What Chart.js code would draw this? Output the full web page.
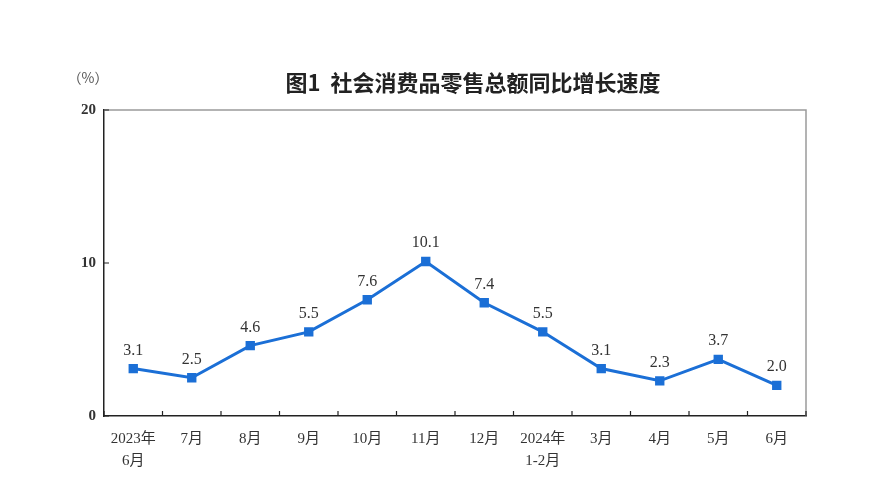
<!doctype html>
<html lang="zh">
  <head>
    <meta charset="UTF-8" />
    <title>社会消费品零售总额同比增长速度</title>
    <script src="https://cdn.jsdelivr.net/npm/chart.js"></script>
    <style>
      html, body { margin: 0; padding: 0; background: #fff; }
      #wrap { width: 870px; height: 492px; position: relative; }
    </style>
  </head>
  <body>
    <div id="wrap"><canvas id="retailChart"></canvas></div>
    <script>
      // data
      const months = [
        ["2023年", "6月"], "7月", "8月", "9月", "10月", "11月",
        "12月", ["2024年", "1-2月"], "3月", "4月", "5月", "6月",
      ];
      const growth = [3.1, 2.5, 4.6, 5.5, 7.6, 10.1, 7.4, 5.5, 3.1, 2.3, 3.7, 2.0];
      const yTicks = [0, 10, 20];

      const titleText = "图1  社会消费品零售总额同比增长速度";
      const unitText = "（%）";
      const lineBlue = "#1b6fd6";
      const textColor = "#333";

      // title, frame, inner ticks and value labels
      const decorate = {
        id: "decorate",
        afterDraw(chart) {
          const { ctx, chartArea: a, scales } = chart;
          ctx.save();

          ctx.fillStyle = "#222";
          ctx.font = "bold 22px 'Noto Sans CJK SC'";
          ctx.textAlign = "center";
          ctx.textBaseline = "middle";
          ctx.fillText(titleText, 473, 83);

          ctx.fillStyle = "#555";
          ctx.font = "14px 'Noto Sans CJK SC'";
          ctx.fillText(unitText, 88, 78);

          // gray top/right frame
          ctx.strokeStyle = "#9a9a9a";
          ctx.lineWidth = 1.5;
          ctx.beginPath();
          ctx.moveTo(a.left, a.top);
          ctx.lineTo(a.right, a.top);
          ctx.lineTo(a.right, a.bottom);
          ctx.stroke();

          // inward tick marks
          ctx.strokeStyle = "#222";
          ctx.lineWidth = 1.2;
          ctx.beginPath();
          const x = scales.x;
          for (let i = 0; i <= months.length; i++) {
            const px = x.getPixelForValue(i - 0.5);
            ctx.moveTo(px, a.bottom);
            ctx.lineTo(px, a.bottom - 5);
          }
          yTicks.forEach((v) => {
            const py = scales.y.getPixelForValue(v);
            ctx.moveTo(a.left, py);
            ctx.lineTo(a.left + 5, py);
          });
          ctx.stroke();

          // value labels
          ctx.fillStyle = textColor;
          ctx.font = "16px 'Liberation Serif'";
          ctx.textBaseline = "alphabetic";
          const meta = chart.getDatasetMeta(0);
          meta.data.forEach((pt, i) => {
            ctx.fillText(growth[i].toFixed(1), pt.x, pt.y - 14);
          });
          ctx.restore();
        },
      };

      new Chart(document.getElementById("retailChart"), {
        type: "line",
        data: {
          labels: months,
          datasets: [
            {
              data: growth,
              borderColor: lineBlue,
              backgroundColor: lineBlue,
              borderWidth: 3,
              pointStyle: "rect",
              pointRadius: 4.5,
              pointHoverRadius: 4.5,
              tension: 0,
            },
          ],
        },
        options: {
          responsive: true,
          maintainAspectRatio: false,
          animation: false,
          layout: { padding: { top: 110, right: 64, left: 0, bottom: 0 } },
          plugins: {
            legend: { display: false },
            tooltip: { enabled: false },
          },
          scales: {
            x: {
              offset: true,
              grid: { display: false, drawTicks: false },
              border: { display: true, color: "#222", width: 1.5 },
              ticks: {
                color: textColor,
                padding: 12,
                maxRotation: 0,
                autoSkip: false,
                font: {
                  family: "'Liberation Serif', 'Noto Sans CJK SC'",
                  size: 15,
                  lineHeight: 1.45,
                },
              },
              afterFit(scale) { scale.height = 76; },
            },
            y: {
              min: 0,
              max: 20,
              afterBuildTicks(scale) {
                scale.ticks = yTicks.map((v) => ({ value: v }));
              },
              grid: { display: false, drawTicks: false },
              border: { display: true, color: "#222", width: 1.5 },
              ticks: {
                color: textColor,
                padding: 8,
                font: { family: "'Liberation Serif'", size: 15, weight: "bold" },
              },
              afterFit(scale) { scale.width = 104; },
            },
          },
        },
        plugins: [decorate],
      });
    </script>
  </body>
</html>
